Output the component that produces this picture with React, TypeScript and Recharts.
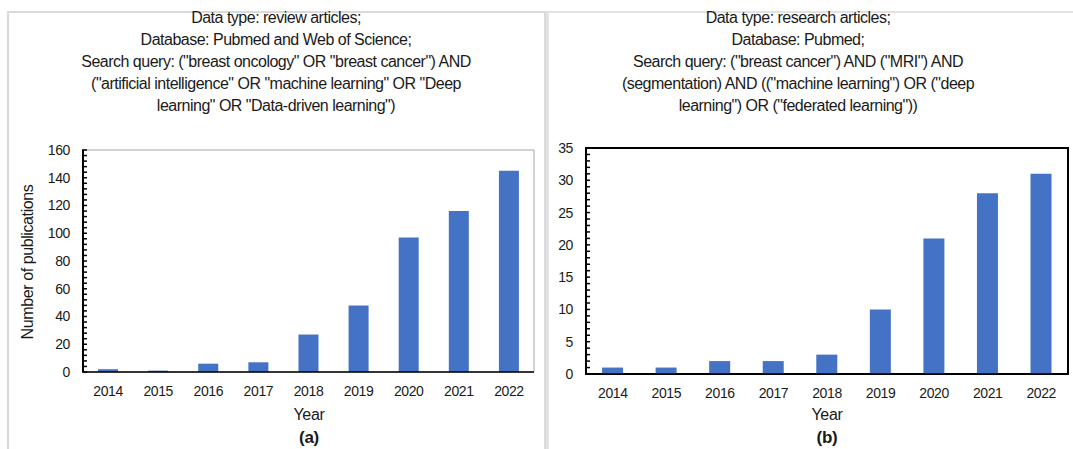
import React from 'react';
import { ComposedChart, Bar, Line, XAxis, YAxis, ReferenceArea } from 'recharts';

const years = ['2014', '2015', '2016', '2017', '2018', '2019', '2020', '2021', '2022'];
const reviewCounts = [2, 1, 6, 7, 27, 48, 97, 116, 145];
const researchCounts = [1, 1, 2, 2, 3, 10, 21, 28, 31];

const reviewTicks = [0, 20, 40, 60, 80, 100, 120, 140, 160];
const researchTicks = [0, 5, 10, 15, 20, 25, 30, 35];

const reviewTitle = [
    'Data type: review articles;',
    'Database: Pubmed and Web of Science;',
    'Search query: ("breast oncology" OR "breast cancer") AND',
    '("artificial intelligence" OR "machine learning" OR "Deep',
    'learning" OR "Data-driven learning")',
];
const researchTitle = [
    'Data type: research articles;',
    'Database: Pubmed;',
    'Search query: ("breast cancer") AND ("MRI") AND',
    '(segmentation) AND (("machine learning") OR ("deep',
    'learning") OR ("federated learning"))',
];

const BAR_COLOR = '#4472C4';
const FONT = "'Liberation Sans', Arial, sans-serif";
const TEXT = '#1a1a1a';

// minor ticks on the y axis (major step / 5)
const minorTicks = (max: number, step: number) =>
    Array.from({ length: Math.round(max / step) + 1 }, (_, i) => i * step);

// draws the short inward tick mark for a minor tick value
const MinorTick = (props: any) => {
    const { x, y, payload } = props;
    if (payload == null) return <g />;
    return <line x1={x - 1} x2={x + 4} y1={y} y2={y} stroke="#000" strokeWidth={1.5} />;
};

interface PanelChartProps {
    values: number[];
    ticks: number[];
    minorStep: number;
    left: number;
    top: number;
    width: number;
    height: number;
    yAxisWidth: number;
    rightMargin: number;
    frameColor: string;
    frameWidth: number;
}

function PanelChart({ values, ticks, minorStep, left, top, width, height, yAxisWidth, rightMargin, frameColor, frameWidth }: PanelChartProps) {
    const data = years.map((year, i) => ({ year, value: values[i] }));
    const max = ticks[ticks.length - 1];
    return (
        <div style={{ position: 'absolute', left, top }}>
            <ComposedChart
                width={width}
                height={height}
                data={data}
                margin={{ top: 10, right: rightMargin, bottom: 0, left: 0 }}
                barCategoryGap="30%"
            >
                <ReferenceArea
                    yAxisId="main"
                    y1={0}
                    y2={max}
                    fill="none"
                    fillOpacity={0}
                    stroke={frameColor}
                    strokeWidth={frameWidth}
                    ifOverflow="visible"
                />
                <XAxis
                    dataKey="year"
                    height={58}
                    tickLine={false}
                    tickSize={0}
                    tickMargin={14}
                    axisLine={{ stroke: '#000', strokeWidth: 1.5 }}
                    tick={{ fill: TEXT, fontSize: 14, fontFamily: FONT, letterSpacing: -0.4 }}
                />
                <YAxis
                    yAxisId="main"
                    width={yAxisWidth}
                    domain={[0, max]}
                    ticks={ticks}
                    interval={0}
                    tickLine={false}
                    tickSize={0}
                    tickMargin={13}
                    axisLine={{ stroke: '#000', strokeWidth: 2 }}
                    tick={{ fill: TEXT, fontSize: 14, fontFamily: FONT, letterSpacing: -0.4 }}
                />
                <YAxis
                    yAxisId="minor"
                    mirror
                    domain={[0, max]}
                    ticks={minorTicks(max, minorStep)}
                    interval={0}
                    axisLine={false}
                    tickLine={false}
                    tickSize={0}
                    tickMargin={0}
                    tick={<MinorTick />}
                />
                <Bar yAxisId="main" dataKey="value" fill={BAR_COLOR} isAnimationActive={false} />
                {/* invisible series so the minor-tick axis is drawn */}
                <Line
                    yAxisId="minor"
                    dataKey="value"
                    stroke="none"
                    dot={false}
                    activeDot={false}
                    legendType="none"
                    isAnimationActive={false}
                />
            </ComposedChart>
        </div>
    );
}

function Title({ lines, center }: { lines: string[]; center: number }) {
    return (
        <div style={{ position: 'absolute', left: center - 250, top: 7, width: 500, textAlign: 'center' }}>
            {lines.map((line) => (
                <div key={line} style={{ height: 22, lineHeight: '22px', fontSize: 16, letterSpacing: -0.5, whiteSpace: 'nowrap' }}>
                    {line}
                </div>
            ))}
        </div>
    );
}

function Caption({ text, x, y, bold, size }: { text: string; x: number; y: number; bold?: boolean; size: number }) {
    return (
        <div
            style={{
                position: 'absolute',
                left: x - 50,
                top: y - 11,
                width: 100,
                height: 22,
                lineHeight: '22px',
                textAlign: 'center',
                fontSize: size,
                fontWeight: bold ? 700 : 400,
                letterSpacing: -0.3,
            }}
        >
            {text}
        </div>
    );
}

export default function App() {
    return (
        <div
            style={{
                position: 'absolute',
                left: 0,
                top: 0,
                width: 1073,
                height: 449,
                overflow: 'hidden',
                background: '#fff',
                fontFamily: FONT,
                color: TEXT,
            }}
        >
            {/* panel frames */}
            <div style={{ position: 'absolute', left: 7, top: 11, width: 535, height: 460, border: '2px solid #dadada', borderRightWidth: 3 }} />
            <div style={{ position: 'absolute', left: 546, top: 11, width: 540, height: 460, border: '2px solid #e2e2e2', borderLeftWidth: 3 }} />

            <Title lines={reviewTitle} center={276} />
            <Title lines={researchTitle} center={798} />

            <PanelChart
                values={reviewCounts}
                ticks={reviewTicks}
                minorStep={4}
                left={10}
                top={140}
                width={530}
                height={290}
                yAxisWidth={73}
                rightMargin={6}
                frameColor="#a6a6a6"
                frameWidth={1}
            />
            <PanelChart
                values={researchCounts}
                ticks={researchTicks}
                minorStep={1}
                left={546}
                top={138}
                width={524}
                height={294}
                yAxisWidth={40}
                rightMargin={2}
                frameColor="#000"
                frameWidth={2}
            />

            <div
                style={{
                    position: 'absolute',
                    left: 28 - 90,
                    top: 262 - 11,
                    width: 180,
                    height: 22,
                    lineHeight: '22px',
                    textAlign: 'center',
                    fontSize: 16,
                    letterSpacing: -0.4,
                    transform: 'rotate(-90deg)',
                    whiteSpace: 'nowrap',
                }}
            >
                Number of publications
            </div>

            <Caption text="Year" x={309} y={415} size={16} />
            <Caption text="(a)" x={309} y={438} size={17} bold />
            <Caption text="Year" x={827} y={415} size={16} />
            <Caption text="(b)" x={827} y={438} size={17} bold />
        </div>
    );
}
